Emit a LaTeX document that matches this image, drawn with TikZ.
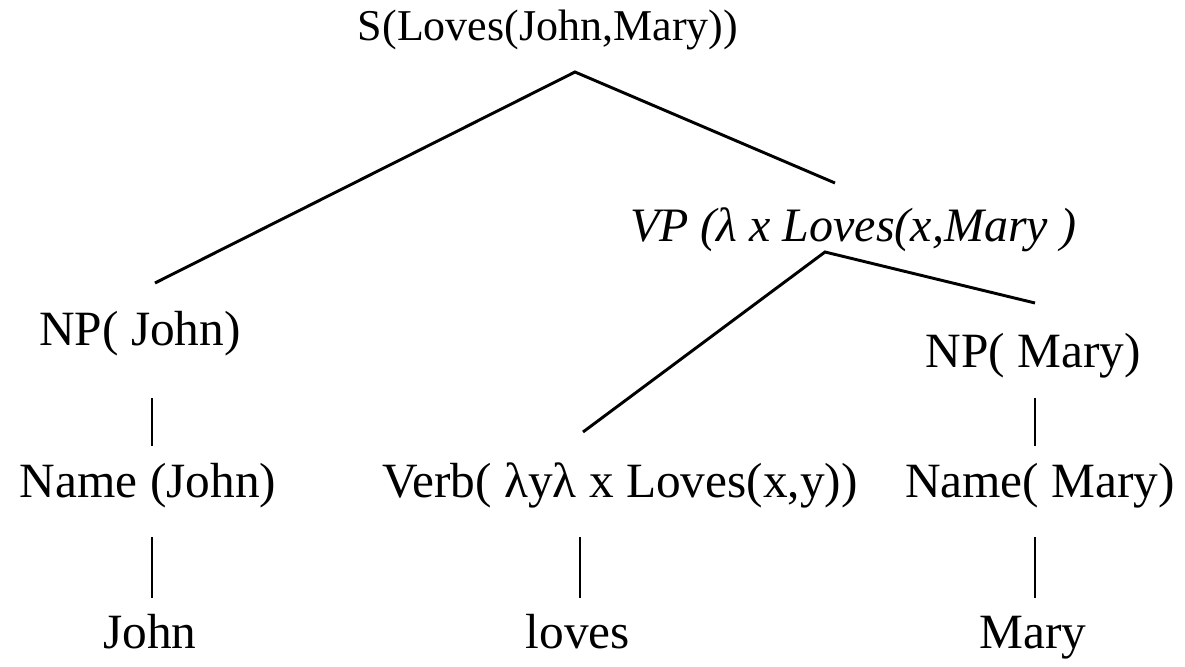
\documentclass[tikz,border=0pt]{standalone}
\usepackage{fontspec}
\setmainfont{Liberation Serif}

\begin{document}
\begin{tikzpicture}[x=0.75pt,y=0.75pt,yscale=-1,xscale=1,
	lbl/.style={inner sep=0pt,anchor=base,font=\fontsize{37}{40}\selectfont},
	edge/.style={line width=2.2pt}]
		\useasboundingbox (0,0) rectangle (1185,667);
		
		% tree labels
		\node [lbl,font=\fontsize{33}{40}\selectfont] (s) at (548,41) {S(Loves(John,Mary))};
		\node [lbl,font=\fontsize{36}{40}\selectfont\itshape] (vp) at (853,241) {VP (λ x Loves(x,Mary )};
		\node [lbl] (npj) at (140,345) {NP( John)};
		\node [lbl] (npm) at (1033,367) {NP( Mary)};
		\node [lbl] (namej) at (148,497) {Name (John)};
		\node [lbl] (verb) at (620,497) {Verb( λyλ x Loves(x,y))};
		\node [lbl] (namem) at (1040,497) {Name( Mary)};
		\node [lbl] (john) at (150,648) {John};
		\node [lbl] (loves) at (578,648) {loves};
		\node [lbl] (mary) at (1033,648) {Mary};
		
		% branch points
		\coordinate (sFork) at (575,72);
		\coordinate (vpFork) at (825,252);
		\coordinate (npjTop) at (155,283);
		\coordinate (vpTop) at (835,183);
		\coordinate (verbTop) at (583,432);
		\coordinate (npmTop) at (1035,303);
		
		% ends of the upright stems
		\coordinate (npjBot) at (152,398);
		\coordinate (namejTop) at (152,446);
		\coordinate (namejBot) at (152,537);
		\coordinate (johnTop) at (152,598);
		\coordinate (verbBot) at (580,537);
		\coordinate (lovesTop) at (580,598);
		\coordinate (npmBot) at (1035,398);
		\coordinate (namemTop) at (1035,446);
		\coordinate (namemBot) at (1035,537);
		\coordinate (maryTop) at (1035,598);
		
		\draw [edge] (npjTop) -- (sFork) -- (vpTop);
		\draw [edge] (verbTop) -- (vpFork) -- (npmTop);
		
		\draw [edge] (npjBot) -- (namejTop);
		\draw [edge] (namejBot) -- (johnTop);
		\draw [edge] (verbBot) -- (lovesTop);
		\draw [edge] (npmBot) -- (namemTop);
		\draw [edge] (namemBot) -- (maryTop);
		
\end{tikzpicture}
\end{document}
